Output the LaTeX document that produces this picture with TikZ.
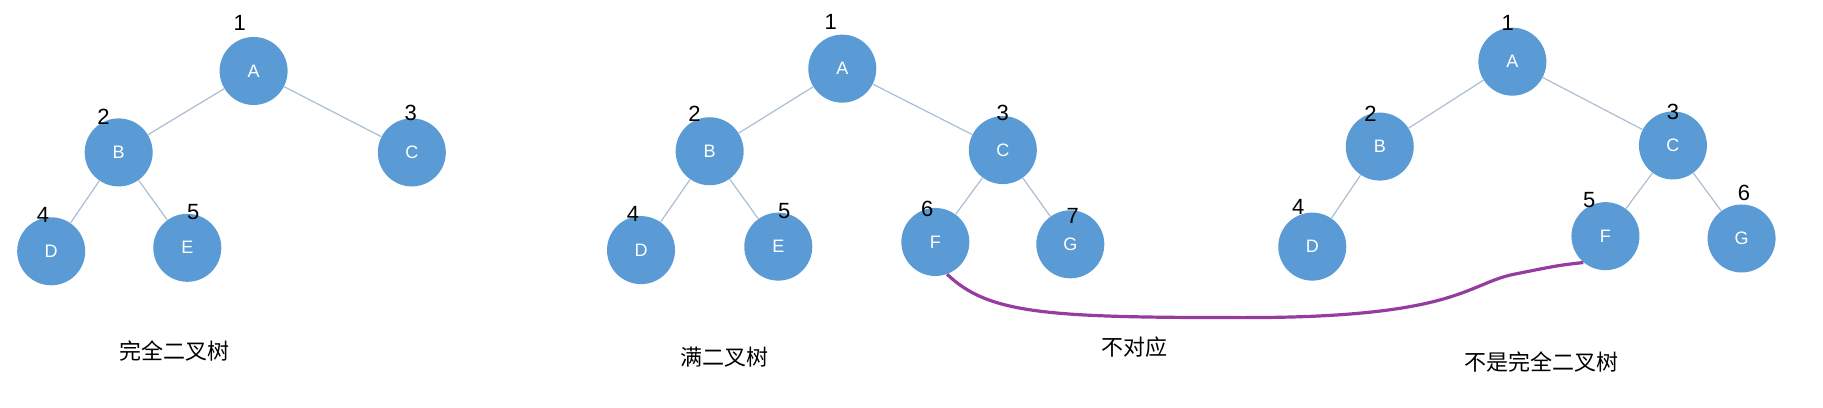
\documentclass[tikz,border=0pt]{standalone}
\usepackage{fontspec}
\setmainfont{Liberation Sans}
\newfontfamily\cjk{Noto Sans CJK SC}
\definecolor{nodeblue}{RGB}{91,155,213}
\definecolor{edgegray}{RGB}{170,190,210}
\definecolor{linkpurple}{RGB}{150,60,160}
\tikzset{
  vert/.style = {circle, fill = nodeblue, minimum size = 34pt, inner sep = 0pt, text = white, font = \small},
  num/.style = {font = \fontsize{11}{12}\selectfont},
  caption/.style = {font = \cjk\fontsize{11}{12}\selectfont},
  branch/.style = {draw = edgegray, line width = 0.6pt}
}
\begin{document}
\begin{tikzpicture}[x = 0.5816pt, y = -0.5816pt]
\useasboundingbox (0,0) rectangle (1567,350);
% complete binary tree
\node[vert] (a1) at (218,61) {A};
\node[vert] (b1) at (102,131) {B};
\node[vert] (c1) at (354,131) {C};
\node[vert] (d1) at (44,216) {D};
\node[vert] (e1) at (161,213) {E};
\draw[branch] (a1) -- (b1);
\draw[branch] (a1) -- (c1);
\draw[branch] (b1) -- (d1);
\draw[branch] (b1) -- (e1);
\node[num] at (206,20) {1};
\node[num] at (89,100) {2};
\node[num] at (353,97) {3};
\node[num] at (37,185) {4};
\node[num] at (166,182) {5};
\node[caption] at (150,302) {完全二叉树};
% full binary tree
\node[vert] (a2) at (724,59) {A};
\node[vert] (b2) at (610,130) {B};
\node[vert] (c2) at (862,129) {C};
\node[vert] (d2) at (551,215) {D};
\node[vert] (e2) at (669,212) {E};
\node[vert] (f2) at (804,208) {F};
\node[vert] (g2) at (920,210) {G};
\draw[branch] (a2) -- (b2);
\draw[branch] (a2) -- (c2);
\draw[branch] (b2) -- (d2);
\draw[branch] (b2) -- (e2);
\draw[branch] (c2) -- (f2);
\draw[branch] (c2) -- (g2);
\node[num] at (714,19) {1};
\node[num] at (597,98) {2};
\node[num] at (862,97) {3};
\node[num] at (544,184) {4};
\node[num] at (674,181) {5};
\node[num] at (797,180) {6};
\node[num] at (922,186) {7};
\node[caption] at (623,307) {满二叉树};
% not complete
\node[vert] (a3) at (1300,53) {A};
\node[vert] (b3) at (1186,126) {B};
\node[vert] (c3) at (1438,125) {C};
\node[vert] (d3) at (1128,212) {D};
\node[vert] (f3) at (1380,203) {F};
\node[vert] (g3) at (1497,205) {G};
\draw[branch] (a3) -- (b3);
\draw[branch] (a3) -- (c3);
\draw[branch] (b3) -- (d3);
\draw[branch] (c3) -- (f3);
\draw[branch] (c3) -- (g3);
\node[num] at (1296,20) {1};
\node[num] at (1178,98) {2};
\node[num] at (1438,96) {3};
\node[num] at (1116,178) {4};
\node[num] at (1366,172) {5};
\node[num] at (1499,166) {6};
\node[caption] at (1325,311) {不是完全二叉树};
% mismatch
\draw[linkpurple, line width = 1.6pt] (f2.-70) .. controls (850,270) and (900,273) .. (1070,273) .. controls (1250,273) and (1260,245) .. (1300,236) .. controls (1340,228) .. (f3.-130);
\node[caption] at (975,298) {不对应};
\end{tikzpicture}
\end{document}
